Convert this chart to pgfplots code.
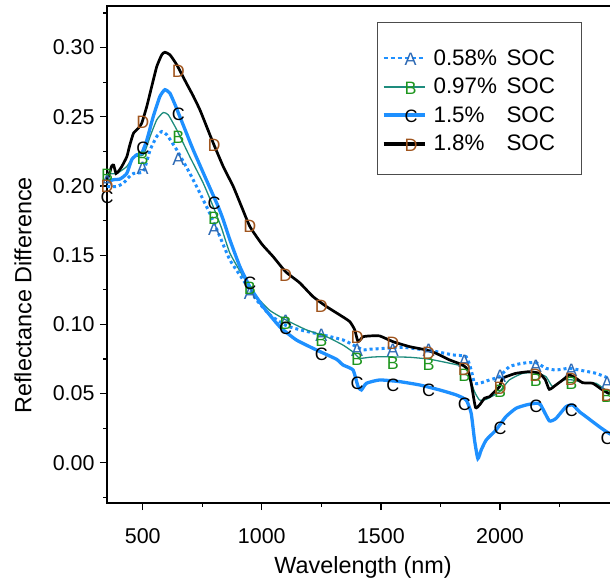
\documentclass[border=0pt]{standalone}
\usepackage{fontspec}
\setmainfont{Liberation Sans}
\usepackage{pgfplots}
\pgfplotsset{compat=1.18}
\definecolor{cA}{RGB}{30,144,255}
\definecolor{cAt}{RGB}{45,105,180}
\definecolor{cB}{RGB}{30,140,125}
\definecolor{cBt}{RGB}{30,150,30}
\definecolor{cC}{RGB}{30,144,255}
\definecolor{cDt}{RGB}{160,85,30}
\newcommand\lab{\fontsize{23.5}{28}\selectfont}
\newcommand\tlab{\fontsize{21.5}{26}\selectfont}
\newcommand\mk{\fontsize{18}{21}\selectfont}

\pgfplotstableread{
x y
350 0.1996
391 0.1996
419 0.202
440 0.206
461 0.209
503 0.2104
531 0.226
559 0.2357
580 0.2393
601 0.237
643 0.226
698 0.209
740 0.1948
782 0.180
820 0.165
866 0.1465
922 0.132
978 0.1176
1034 0.1068
1103 0.0990
1173 0.0955
1257 0.0923
1341 0.0887
1397 0.0839
1425 0.0815
1453 0.082
1523 0.0827
1592 0.0834
1662 0.082
1732 0.0803
1802 0.0779
1858 0.0766
1879 0.067
1893 0.0574
1914 0.0574
1956 0.0598
1998 0.0622
2039 0.0694
2095 0.0719
2151 0.0723
2193 0.0682
2235 0.067
2291 0.0682
2347 0.0665
2403 0.0646
2458 0.061
2500 0.059
}\tA

\pgfplotstableread{
x y
350 0.209
391 0.209
433 0.214
461 0.221
503 0.2225
531 0.2357
559 0.2478
586 0.253
607 0.2514
643 0.2405
698 0.221
754 0.202
796 0.185
830 0.170
866 0.1514
922 0.1345
978 0.120
1034 0.110
1103 0.103
1187 0.096
1271 0.0911
1341 0.085
1383 0.080
1411 0.0755
1453 0.0762
1495 0.0766
1537 0.0765
1620 0.0762
1704 0.0748
1788 0.0719
1858 0.069
1872 0.0622
1893 0.0513
1914 0.0453
1942 0.0458
1977 0.049
1998 0.0513
2039 0.0598
2095 0.0646
2151 0.065
2193 0.0622
2221 0.055
2263 0.0598
2305 0.0598
2361 0.0574
2403 0.0574
2445 0.0526
2500 0.050
}\tB

\pgfplotstableread{
x y
350 0.203
377 0.2045
405 0.205
433 0.209
454 0.219
475 0.2225
496 0.2237
517 0.233
544 0.250
572 0.2646
593 0.2695
614 0.267
635 0.259
656 0.250
684 0.238
712 0.226
740 0.215
768 0.204
817 0.185
838 0.1755
866 0.161
908 0.1417
950 0.127
1005 0.1128
1075 0.0983
1145 0.0887
1229 0.0815
1313 0.0748
1341 0.0706
1383 0.067
1404 0.055
1418 0.0526
1439 0.0574
1495 0.0598
1578 0.0586
1662 0.0562
1746 0.0526
1816 0.049
1858 0.0453
1879 0.0357
1893 0.0164
1907 0.003
1921 0.0092
1942 0.0164
1983 0.0236
2025 0.0333
2067 0.0393
2109 0.0417
2150 0.043
2170 0.042
2207 0.0303
2235 0.032
2277 0.0405
2305 0.0417
2333 0.0369
2361 0.0333
2417 0.026
2458 0.0212
2500 0.018
}\tC

\pgfplotstableread{
x y
350 0.204
360 0.209
370 0.2145
378 0.215
388 0.209
400 0.211
412 0.214
433 0.221
445 0.229
461 0.238
482 0.2418
496 0.2454
517 0.2574
538 0.272
559 0.2863
580 0.2948
593 0.2966
614 0.2948
643 0.2875
684 0.274
712 0.265
740 0.255
768 0.243
796 0.231
838 0.214
880 0.1996
915 0.185
950 0.1706
1000 0.158
1047 0.149
1100 0.138
1159 0.130
1215 0.120
1270 0.113
1327 0.1068
1369 0.102
1390 0.096
1404 0.0875
1425 0.091
1453 0.0916
1495 0.0916
1550 0.0875
1620 0.0839
1690 0.0815
1732 0.079
1788 0.0743
1844 0.0706
1865 0.067
1879 0.0574
1897 0.040
1914 0.0417
1935 0.0466
1956 0.0477
1977 0.0513
1998 0.055
2011 0.061
2039 0.063
2067 0.0646
2123 0.0658
2165 0.0646
2190 0.060
2207 0.053
2235 0.0562
2265 0.060
2291 0.0634
2319 0.061
2347 0.0578
2389 0.0574
2430 0.0526
2458 0.050
2500 0.048
}\tD

\pgfplotstableread{
x A B C D
350 0.203 0.208 0.192 0.1996
500 0.2128 0.220 0.2273 0.2458
650 0.2189 0.2353 0.2514 0.2827
800 0.1683 0.1767 0.1875 0.229
950 0.1225 0.126 0.1297 0.1706
1100 0.1025 0.1005 0.0972 0.1357
1250 0.0923 0.0887 0.0786 0.1133
1400 0.0815 0.0748 0.0574 0.0907
1550 0.0815 0.0719 0.0562 0.0863
1700 0.081 0.0714 0.0526 0.0791
1850 0.073 0.0634 0.0424 0.0675
2000 0.0622 0.0513 0.0249 0.0538
2150 0.070 0.0598 0.0405 0.0634
2300 0.067 0.0574 0.0381 0.0603
2450 0.0574 0.048 0.0176 0.049
}\tM

\begin{document}
\begin{tikzpicture}
\begin{axis}[
  name=ax, at={(0,0)}, anchor=south west,
  scale only axis, width=512.1bp, height=497bp,
  xmin=350, xmax=2500, ymin=-0.0291, ymax=0.330,
  xtick={500,1000,1500,2000}, minor xtick={750,1250,1750,2250},
  ytick={0,0.05,0.10,0.15,0.20,0.25,0.30},
  minor ytick={-0.025,0.025,0.075,0.125,0.175,0.225,0.275,0.325},
  tick align=outside, xtick pos=left, ytick pos=left,
  major tick length=7bp, minor tick length=3.5bp,
  tick style={black, line width=1.2bp},
  axis line style={line width=1.6bp},
  tick label style={font=\tlab, /pgf/number format/assume math mode=true},
  xticklabel style={/pgf/number format/1000 sep={}, yshift=-15bp},
  yticklabel style={/pgf/number format/.cd, fixed, fixed zerofill, precision=2, /tikz/xshift=-2bp},
  scaled y ticks=false,
  xlabel={Wavelength (nm)}, ylabel={Reflectance Difference},
  label style={font=\lab},
  xlabel style={at={(axis description cs:0.5,-0.1300)}, anchor=center},
  ylabel style={at={(axis description cs:-0.164,0.418)}, anchor=center},
  legend style={at={(axis description cs:0.5250,0.9604)}, anchor=north west,
    draw=none, fill=none, font=\fontsize{22.5}{27}\selectfont,
    inner xsep=5.6bp, inner ysep=18bp, row sep=0bp,
    /tikz/every odd column/.append style={column sep=4.2bp},
    nodes={inner ysep=5.5bp, text height=16bp, text depth=1.5bp}},
  legend cell align=left,
]
\draw[black!70, line width=0.8bp, fill=white] (axis description cs:0.5286,0.9664) rectangle (axis description cs:0.9270,0.6620);
\addplot[cA, line width=3bp, dash pattern=on 3bp off 3bp, smooth, tension=0.3, forget plot] table[x=x,y=y]{\tA};
\addplot[cB, line width=1.3bp, smooth, tension=0.3, forget plot] table[x=x,y=y]{\tB};
\addplot[cC, line width=3.3bp, smooth, tension=0.3, forget plot] table[x=x,y=y]{\tC};
\addplot[black, line width=2.7bp, smooth, tension=0.3, forget plot] table[x=x,y=y]{\tD};

\addplot[only marks, mark=text, text mark={A}, text mark as node=true, text mark style={font=\mk, text=cAt, inner sep=0pt}, forget plot] table[x=x,y=A]{\tM};
\addplot[only marks, mark=text, text mark={B}, text mark as node=true, text mark style={font=\mk, text=cBt, inner sep=0pt}, forget plot] table[x=x,y=B]{\tM};
\addplot[only marks, mark=text, text mark={C}, text mark as node=true, text mark style={font=\mk, text=black, inner sep=0pt}, forget plot] table[x=x,y=C]{\tM};
\addplot[only marks, mark=text, text mark={D}, text mark as node=true, text mark style={font=\mk, text=cDt, inner sep=0pt}, forget plot] table[x=x,y=D]{\tM};

\addlegendimage{legend image code/.code={\draw[cA, line width=2bp, dash pattern=on 4.5bp off 2.5bp] (0bp,0bp) -- (41.7bp,0bp); \node[text=cAt, font=\mk, inner sep=0pt, text height=, text depth=] at (20.8bp,-1.5bp) {A};}}
\addlegendentry{\makebox[131.9bp][l]{\makebox[73bp][l]{0.58\%}SOC}}
\addlegendimage{legend image code/.code={\draw[cB, line width=1.8bp] (0bp,0bp) -- (41.7bp,0bp); \node[text=cBt, font=\mk, inner sep=0pt, text height=, text depth=] at (20.8bp,-1.5bp) {B};}}
\addlegendentry{\makebox[131.9bp][l]{\makebox[73bp][l]{0.97\%}SOC}}
\addlegendimage{legend image code/.code={\draw[cC, line width=4bp] (0bp,0bp) -- (41.7bp,0bp); \node[text=black, font=\mk, inner sep=0pt, text height=, text depth=] at (20.8bp,-1.5bp) {C};}}
\addlegendentry{\makebox[131.9bp][l]{\makebox[73bp][l]{1.5\%}SOC}}
\addlegendimage{legend image code/.code={\draw[black, line width=4bp] (0bp,0bp) -- (41.7bp,0bp); \node[text=cDt, font=\mk, inner sep=0pt, text height=, text depth=] at (20.8bp,-1.5bp) {D};}}
\addlegendentry{\makebox[131.9bp][l]{\makebox[73bp][l]{1.8\%}SOC}}
\end{axis}
\pgfresetboundingbox
\useasboundingbox (-107bp,-78bp) rectangle (503bp,503bp);
\end{tikzpicture}
\end{document}
